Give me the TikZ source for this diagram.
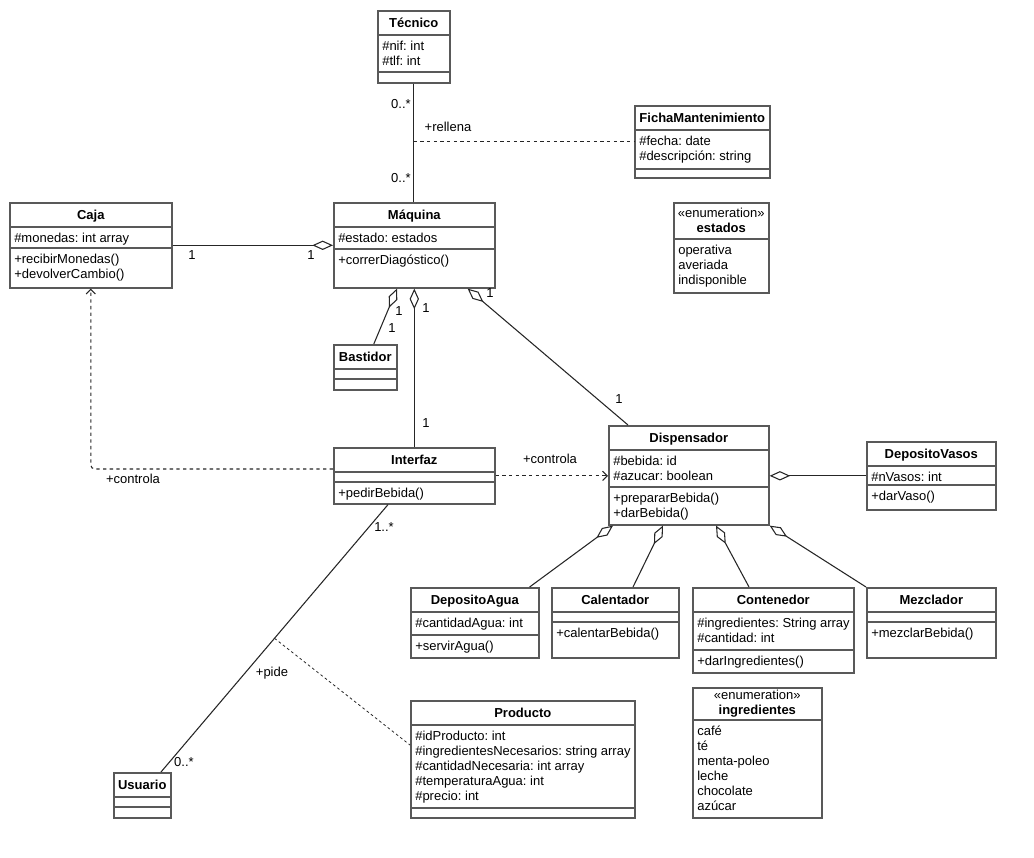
\documentclass[tikz,border=0pt]{standalone}
\usepackage{fontspec}
\setmainfont{Liberation Sans}
\usetikzlibrary{arrows.meta,calc,positioning}
\newcommand{\diagfont}{\fontsize{9.75pt}{11.25pt}\selectfont}
\frenchspacing
\tikzset{
    box/.style={draw=black!65, line width=1.2pt, fill=white, inner sep=0pt},
    rule/.style={draw=black!65, line width=1.2pt},
    titletext/.style={font=\diagfont\bfseries, inner sep=0pt, text height=7.2pt, text depth=0pt},
    membertext/.style={anchor=north west, align=left, inner sep=0pt},
    enumtitle/.style={align=center, inner sep=0pt},
    mult/.style={inner sep=0pt, text height=7.2pt, text depth=0pt},
    assoc/.style={draw=black!85, line width=0.8pt},
    agg/.style={assoc, -{Diamond[open, length=15.5pt, width=7pt]}},
    dep/.style={assoc, dash pattern=on 2.5pt off 2.5pt, rounded corners=3pt, -{Straight Barb[length=3.5pt, width=7pt]}},
    assocclass/.style={draw=black!85, line width=0.6pt, dash pattern=on 2pt off 2pt}
}
% #1 name, #2 left, #3 top, #4 width, #5 height, #6 second rule, #7 title, #8 attributes, #9 methods
\newcommand{\umlclass}[9]{%
    \node[box, minimum width=#4*0.75pt, minimum height=#5*0.75pt, anchor=north west] (#1) at (#2,#3) {};
    \node[titletext] (#1-t) at ($(#1.north)+(0,12.5)$) {#7};
    \draw[rule] ($(#1.north west)+(0,25)$) -- ($(#1.north east)+(0,25)$);
    \draw[rule] ($(#1.north west)+(0,#6)$) -- ($(#1.north east)+(0,#6)$);
    \node[membertext] (#1-a) at ($(#1.north west)+(5,30)$) {\rule{0pt}{8pt}#8};
    \node[membertext] (#1-m) at ($(#1.north west)+(5,#6+5)$) {\rule{0pt}{8pt}#9};
}
% #1 name, #2 left, #3 top, #4 width, #5 height, #6 rule, #7 title, #8 values
\newcommand{\umlenum}[8]{%
    \node[box, minimum width=#4*0.75pt, minimum height=#5*0.75pt, anchor=north west] (#1) at (#2,#3) {};
    \node[enumtitle] (#1-t) at ($(#1.north)+(0,#6/2)$) {«enumeration»\\\textbf{#7}};
    \draw[rule] ($(#1.north west)+(0,#6)$) -- ($(#1.north east)+(0,#6)$);
    \node[membertext] (#1-v) at ($(#1.north west)+(5,#6+5)$) {\rule{0pt}{8pt}#8};
}

\begin{document}
\begin{tikzpicture}[x=0.75pt, y=-0.75pt, font=\diagfont]
    \useasboundingbox (0,0) rectangle (1034,857);

    % classes
    \umlclass{tecnico}{377}{10}{72}{72}{62}{Técnico}{\#nif: int\\\#tlf: int}{}
    \umlclass{ficha}{634}{105}{135}{72}{64}{FichaMantenimiento}{\#fecha: date\\\#descripción: string}{}
    \umlclass{caja}{9}{202}{162}{85}{46}{Caja}{\#monedas: int array}{+recibirMonedas()\\+devolverCambio()}
    \umlclass{maquina}{333}{202}{161}{85}{47}{Máquina}{\#estado: estados}{+correrDiagóstico()}
    \umlclass{bastidor}{333}{344}{63}{45}{35}{Bastidor}{}{}
    \umlclass{interfaz}{333}{447}{161}{56}{35}{Interfaz}{}{+pedirBebida()}
    \umlclass{dispensador}{608}{425}{160}{99}{62}{Dispensador}{\#bebida: id\\\#azucar: boolean}{+prepararBebida()\\+darBebida()}
    \umlclass{vasos}{866}{441}{129}{68}{44}{DepositoVasos}{\#nVasos: int}{+darVaso()}
    \umlclass{agua}{410}{587}{128}{70}{48}{DepositoAgua}{\#cantidadAgua: int}{+servirAgua()}
    \umlclass{calentador}{551}{587}{127}{70}{35}{Calentador}{}{+calentarBebida()}
    \umlclass{contenedor}{692}{587}{161}{85}{63}{Contenedor}{\#ingredientes: String array\\\#cantidad: int}{+darIngredientes()}
    \umlclass{mezclador}{866}{587}{129}{70}{35}{Mezclador}{}{+mezclarBebida()}
    \umlclass{usuario}{113}{772}{57}{45}{35}{Usuario}{}{}
    \umlclass{producto}{410}{700}{224}{117}{108}{Producto}{\#idProducto: int\\\#ingredientesNecesarios: string array\\\#cantidadNecesaria: int array\\\#temperaturaAgua: int\\\#precio: int}{}

    % enumerations
    \umlenum{estados}{673}{202}{95}{90}{37}{estados}{operativa\\averiada\\indisponible}
    \umlenum{ingredientes}{692}{687}{129}{130}{33}{ingredientes}{café\\té\\menta-poleo\\leche\\chocolate\\azúcar}

    % relations
    \draw[assoc] (tecnico.south) -- (tecnico.south |- maquina.north);
    \coordinate (rellena) at (ficha.west -| tecnico.south);
    \draw[assocclass, line width=0.8pt, dash pattern=on 2.5pt off 2.5pt] (rellena) -- (ficha.west);
    \draw[agg] (caja.east) -- (maquina.west);
    \draw[agg] ($(bastidor.north)+(8.5,0)$) -- ($(maquina.south west)+(64,0)$);
    \draw[agg] (interfaz.north) -- (maquina.south);
    \draw[agg] ($(dispensador.north west)+(20,0)$) -- ($(maquina.south east)+(-28,0)$);
    \draw[dep] ($(interfaz.north west)+(0,22)$) -| (caja.south);
    \draw[dep] (interfaz.east) -- (interfaz.east -| dispensador.west);
    \draw[agg] (vasos.west) -- (vasos.west -| dispensador.east);
    \draw[agg] ($(agua.north east)+(-10,0)$) -- ($(dispensador.south west)+(5,0)$);
    \draw[agg] ($(calentador.north west)+(82,0)$) -- ($(dispensador.south west)+(55,0)$);
    \draw[agg] ($(contenedor.north west)+(57,0)$) -- ($(dispensador.south west)+(108,0)$);
    \draw[agg] (mezclador.north west) -- (dispensador.south east);
    \draw[assoc] ($(interfaz.south west)+(55,0)$) -- coordinate[pos=0.5] (pide) ($(usuario.north west)+(48,0)$);
    \draw[assocclass] (pide) -- ($(producto.north west)+(0,45)$);

    % labels
    \node[mult] (l-tec1) at (401,104) {0..*};
    \node[mult] (l-tec2) at (401,178) {0..*};
    \node[mult] (l-rellena) at (448,127) {+rellena};
    \node[mult] (l-caja1) at (192,255) {1};
    \node[mult] (l-caja2) at (311,255) {1};
    \node[mult] (l-bas1) at (399,311) {1};
    \node[mult] (l-bas2) at (392,328) {1};
    \node[mult] (l-int1) at (426,308) {1};
    \node[mult] (l-int2) at (426,423) {1};
    \node[mult] (l-dis1) at (490,293) {1};
    \node[mult] (l-dis2) at (619,399) {1};
    \node[mult] (l-ctrl1) at (133,479) {+controla};
    \node[mult] (l-ctrl2) at (550,459) {+controla};
    \node[mult] (l-usu1) at (384,527) {1..*};
    \node[mult] (l-usu2) at (184,762) {0..*};
    \node[mult] (l-pide) at (272,672) {+pide};
\end{tikzpicture}
\end{document}
